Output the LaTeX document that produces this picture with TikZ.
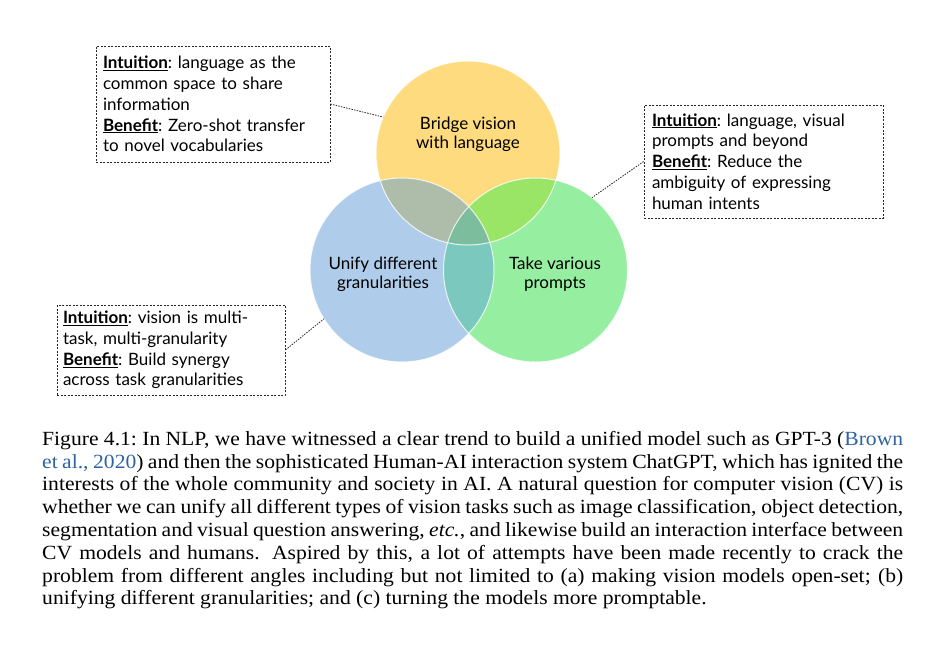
\documentclass[tikz,border=0pt]{standalone}
\usepackage{fontspec}
\setmainfont{Liberation Serif}
\newfontfamily\capfont[FakeStretch=1.075]{Liberation Serif}
\newfontfamily\diagfont{Lato}
\definecolor{cy}{HTML}{FFDB7F}
\definecolor{cb}{HTML}{AFCDEB}
\definecolor{cg}{HTML}{96EFA0}
\definecolor{cyb}{HTML}{ADBDA9}
\definecolor{cyg}{HTML}{9AE466}
\definecolor{cbg}{HTML}{7AC8BE}
\definecolor{cybg}{HTML}{7BBD9C}
\definecolor{citec}{HTML}{2F62A3}
\tikzset{
  venn/.style={circle, minimum size=184pt, inner sep=0pt, outer sep=0pt},
  infobox/.style={draw=black!85, line width=0.8pt, dash pattern=on 2pt off 1.5pt,
    inner sep=0pt, align=left, font=\diagfont\fontsize{17}{20.8}\selectfont\frenchspacing},
  vlabel/.style={align=center, font=\diagfont\fontsize{17}{19}\selectfont},
  link/.style={draw=black!85, line width=0.8pt, dash pattern=on 1.5pt off 1.2pt},
}
\newcommand{\hdr}[1]{\underline{\textbf{#1}}}
\begin{document}
\begin{tikzpicture}[x=1pt,y=-1pt]
\useasboundingbox (0,0) rectangle (937,649);
% circles
\node[venn, fill=cy] (Y) at (468,153) {};
\node[venn, fill=cb] (B) at (402,270) {};
\node[venn, fill=cg] (G) at (535.5,270) {};
\begin{scope}
  \clip (468,153) circle (92pt);
  \fill[cyb] (402,270) circle (92pt);
  \fill[cyg] (535.5,270) circle (92pt);
\end{scope}
\begin{scope}
  \clip (402,270) circle (92pt);
  \fill[cbg] (535.5,270) circle (92pt);
\end{scope}
\begin{scope}
  \clip (468,153) circle (92pt);
  \clip (402,270) circle (92pt);
  \fill[cybg] (535.5,270) circle (92pt);
\end{scope}
\draw[white, opacity=0.8, line width=1pt] (468,153) circle (92pt) (402,270) circle (92pt) (535.5,270) circle (92pt);
% labels
\node[vlabel] (ly) at (468,134.5) {Bridge vision\\with language};
\node[vlabel] (lb) at (383,274) {Unify different\\granularities};
\node[vlabel] (lg) at (555,274) {Take various\\prompts};
% boxes
\node[infobox, minimum width=234pt, minimum height=116pt, text width=220pt] (b1) at (213,104)
  {\hdr{Intuition}: language as the\\common space to share\\information\\\hdr{Benefit}: Zero-shot transfer\\to novel vocabularies};
\node[infobox, minimum width=239pt, minimum height=113pt, text width=223pt] (b2) at (763.5,161.5)
  {\hdr{Intuition}: language, visual\\prompts and beyond\\\hdr{Benefit}: Reduce the\\ambiguity of expressing\\human intents};
\node[infobox, minimum width=228pt, minimum height=90pt, text width=216pt] (b3) at (171,350)
  {\hdr{Intuition}: vision is multi-\\task, multi-granularity\\\hdr{Benefit}: Build synergy\\across task granularities};
% connectors
\draw[link] (b1.east) -- (Y.157);
\draw[link] (b2.west) -- (G.52);
\draw[link] (b3.east) -- (B.212);
% caption
\node[anchor=north west, inner sep=0pt, text width=861pt, align=justify,
  font=\capfont\fontsize{20.1}{22.8}\selectfont] (cap) at (42,431)
  {\hyphenpenalty=10000\exhyphenpenalty=10000
  Figure 4.1:\ In NLP, we have witnessed a clear trend to build a unified model such as GPT-3 ({\color{citec}Brown\linebreak et al., 2020}) and then the sophisticated Human-AI interaction system ChatGPT, which has ignited the\linebreak interests of the whole community and society in AI. A natural question for computer vision (CV) is\linebreak whether we can unify all different types of vision tasks such as image classification, object detection,\linebreak segmentation and visual question answering, \textit{etc.}, and likewise build an interaction interface between\linebreak CV models and humans.  Aspired by this, a lot of attempts have been made recently to crack the\linebreak problem from different angles including but not limited to (a) making vision models open-set; (b)\linebreak unifying different granularities; and (c) turning the models more promptable.\par};
\end{tikzpicture}
\end{document}
